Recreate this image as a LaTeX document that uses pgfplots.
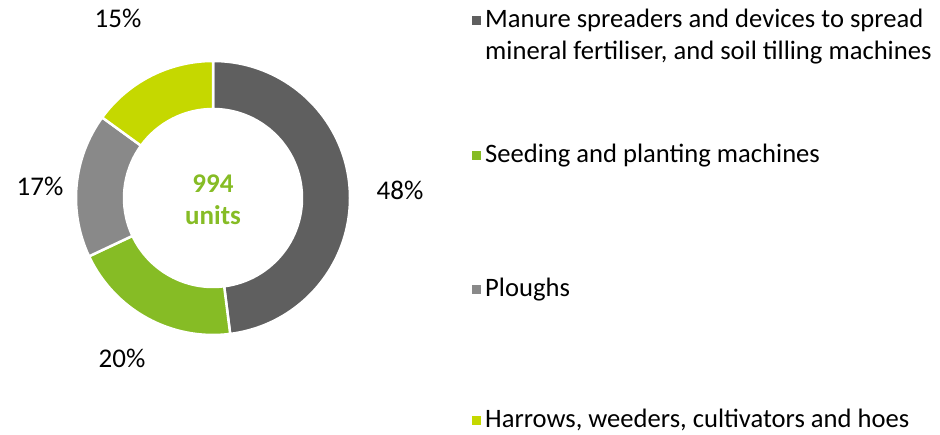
\documentclass[border=0pt]{standalone}
\usepackage{pgfplots}
\usepackage{pgfplotstable}
\pgfplotsset{compat=1.18}
\usepackage{fontspec}
\setmainfont{Carlito}
\definecolor{segA}{HTML}{5F5F5F}
\definecolor{segB}{HTML}{86BC25}
\definecolor{segC}{HTML}{898989}
\definecolor{segD}{HTML}{C5D800}

% shares in percent, clockwise from 12 o'clock
\pgfplotstableread{
share color
48 segA
20 segB
17 segC
15 segD
}\shares

\begin{document}
\begin{tikzpicture}[lbl/.style={font=\fontsize{26.6}{32}\selectfont, inner sep=0pt},
  pct/.style={font=\fontsize{27}{32}\selectfont, inner sep=0pt, anchor=base}]
\begin{axis}[x=1pt, y=1pt, xmin=0, xmax=940, ymin=0, ymax=435,
  hide axis, clip=false]
\addplot[draw=none] coordinates {(0,0) (940,435)};
\pgfplotsextra{
  \coordinate (O) at (axis cs:213,237);
  \gdef\cum{90}
  \foreach \i in {0,...,3}{
    \pgfplotstablegetelem{\i}{share}\of\shares \let\val\pgfplotsretval
    \pgfplotstablegetelem{\i}{color}\of\shares \let\col\pgfplotsretval
    \pgfmathsetmacro{\a}{\cum}
    \pgfmathsetmacro{\b}{\cum-3.6*\val}
    \filldraw[fill=\col, draw=white, line width=2.5pt]
      ([shift={(\a:137)}]O) arc[start angle=\a, end angle=\b, radius=137]
      -- ([shift={(\b:89)}]O) arc[start angle=\b, end angle=\a, radius=89] -- cycle;
    \xdef\cum{\b}
  }
}
% percentages
\node[pct] at (axis cs:118,407) {15\%};
\node[pct] at (axis cs:400,235) {48\%};
\node[pct] at (axis cs:40,239) {17\%};
\node[pct] at (axis cs:122,67) {20\%};
% centre
\node[pct, text=segB, font=\fontsize{27}{32}\selectfont\bfseries] at (axis cs:213,242) {994};
\node[pct, text=segB, font=\fontsize{27}{32}\selectfont\bfseries] at (axis cs:213,210) {units};
% legend
\fill[segA] (axis cs:472,410) rectangle (axis cs:481,419);
\node[lbl, anchor=base west] at (axis cs:485,407) {Manure spreaders and devices to spread};
\node[lbl, anchor=base west] at (axis cs:485,375) {mineral fertiliser, and soil tilling machines};
\fill[segB] (axis cs:472,275) rectangle (axis cs:481,284);
\node[lbl, anchor=base west] at (axis cs:485,272) {Seeding and planting machines};
\fill[segC] (axis cs:472,141) rectangle (axis cs:481,150);
\node[lbl, anchor=base west] at (axis cs:485,138) {Ploughs};
\fill[segD] (axis cs:472,10) rectangle (axis cs:481,19);
\node[lbl, anchor=base west] at (axis cs:485,7) {Harrows, weeders, cultivators and hoes};
\end{axis}
\end{tikzpicture}
\end{document}
